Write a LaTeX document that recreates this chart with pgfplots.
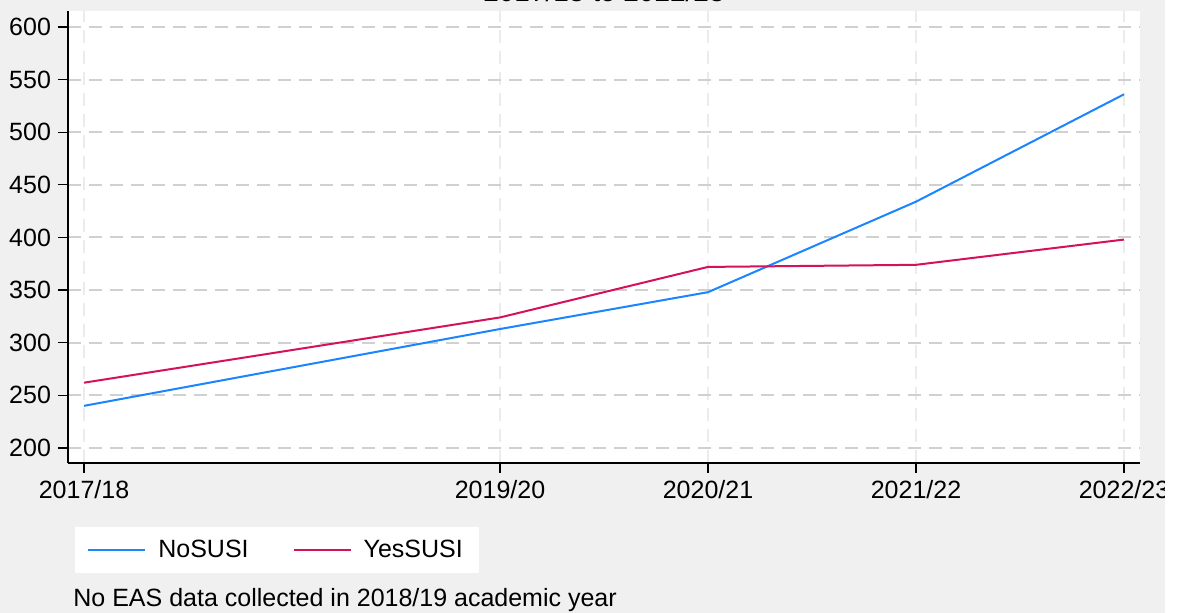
\documentclass[border=0pt]{standalone}
\usepackage{pgfplots}
\pgfplotsset{compat=1.18}
\usepackage{fontspec}
\setmainfont{Liberation Sans}
\definecolor{bg}{HTML}{F0F0F0}
\definecolor{nosusi}{HTML}{1A85FF}
\definecolor{yessusi}{HTML}{D41159}
\definecolor{hgrid}{HTML}{D0D0D0}
\definecolor{vgrid}{HTML}{EBEBEB}
\begin{document}
\begin{tikzpicture}
\fill[bg] (0pt,0pt) rectangle (582.5pt,306.5pt);
\path[use as bounding box] (0pt,0pt) rectangle (588.5pt,306.5pt);
\node[anchor=base,font=\fontsize{14}{16}\selectfont,inner sep=0pt] at (302pt,305.5pt) {2017/18 to 2022/23};
\begin{axis}[
  at={(34pt,75pt)}, anchor=south west,
  scale only axis, width=536pt, height=226pt,
  axis background/.style={fill=white},
  axis lines*=left,
  axis line style={black, line width=0.7pt},
  xmin=-0.077, xmax=5.077,
  ymin=185.7, ymax=615.2,
  xtick={0,2,3,4,5},
  xticklabels={2017/18,2019/20,2020/21,2021/22,2022/23},
  ytick={200,250,...,600},
  tick align=outside,
  major tick length=5pt,
  tick style={black, line width=0.6pt},
  /pgf/number format/assume math mode=true,
  ticklabel style={font=\fontsize{12.5}{15}\selectfont},
  grid=major,
  every axis y grid/.style={hgrid, line width=1pt, dash pattern=on 6.5pt off 4pt},
  every axis x grid/.style={vgrid, line width=1pt, dash pattern=on 6.5pt off 4pt},
  legend columns=2,
  legend style={at={(0.195,-0.192)}, anchor=center, draw=none, fill=white,
    font=\fontsize{12.5}{15}\selectfont, inner xsep=6pt, inner ysep=4.5pt,
    /tikz/every odd column/.append style={column sep=4pt},
    /tikz/every even column/.append style={column sep=20pt}},
  legend cell align=left,
  legend image code/.code={\draw[#1] (0pt,0pt) -- (28.5pt,0pt);},
]
\addplot[nosusi, line width=1pt] coordinates {(0,240) (2,313) (3,348) (4,434) (5,536)};
\addlegendentry{NoSUSI}
\addplot[yessusi, line width=1pt] coordinates {(0,262) (2,324) (3,372) (4,374) (5,398)};
\addlegendentry{YesSUSI}
\end{axis}
\node[anchor=west,inner sep=0pt,font=\fontsize{12.5}{15}\selectfont] at (36.5pt,6.5pt) {No EAS data collected in 2018/19 academic year};
\fill[white] (582.5pt,0pt) rectangle (588.5pt,306.5pt);
\end{tikzpicture}
\end{document}
